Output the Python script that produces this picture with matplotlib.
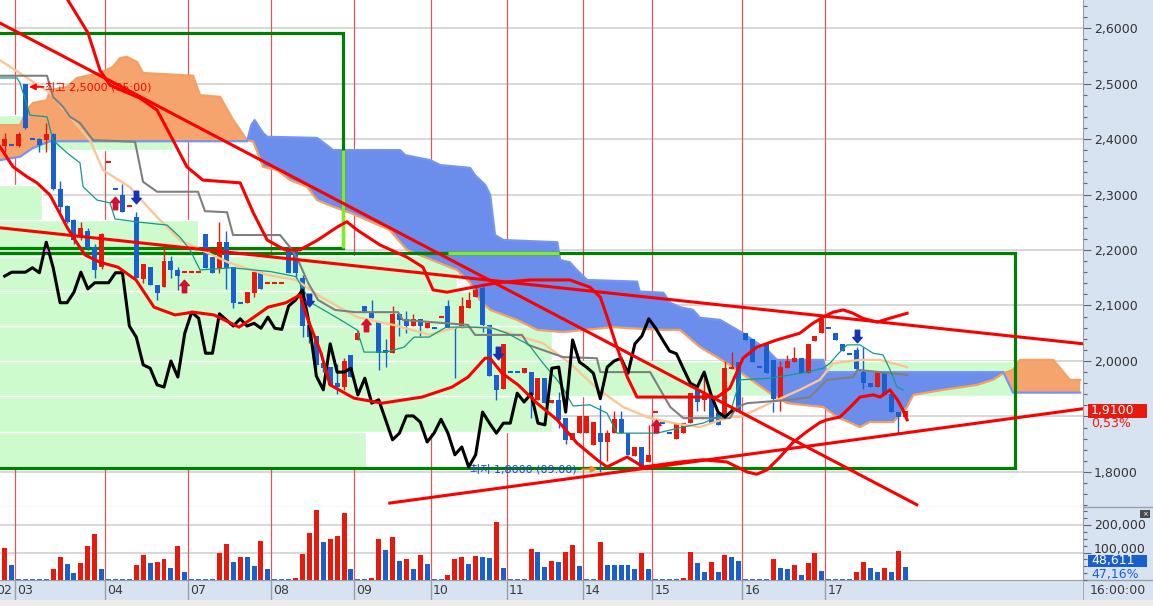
import numpy as np
import matplotlib
matplotlib.use("Agg")
import matplotlib.pyplot as plt
import matplotlib.transforms as mtrans
from matplotlib.patches import Rectangle
from matplotlib.path import Path
from matplotlib.ticker import FixedLocator, FuncFormatter, MultipleLocator

plt.rcParams['font.family'] = ['DejaVu Sans', 'Noto Sans CJK KR']

# ---------------------------------------------------------------- data
days = ['02', '03', '04', '07', '08', '09', '10', '11', '14', '15', '16', '17']
day_start = [-1, 2, 15, 27, 39, 51, 62, 73, 84, 94, 107, 119]

opens = [2.387, 2.389, 2.387, 2.499, 2.400, 2.400, 2.398, 2.409, 2.310, 2.279,
         2.254, 2.223, 2.234, 2.205, 2.169, 2.359, 2.310, 2.299, 2.279, 2.259,
         2.148, 2.169, 2.137, 2.133, 2.180, 2.164, 2.160, 2.160, 2.160, 2.229,
         2.187, 2.168, 2.214, 2.169, 2.105, 2.105, 2.123, 2.160, 2.141, 2.141,
         2.141, 2.200, 2.200, 2.150, 2.065, 2.045, 1.996, 1.989, 1.960, 1.953,
         2.011, 2.038, 2.099, 2.088, 2.070, 2.020, 2.014, 2.085, 2.076, 2.063,
         2.076, 2.059, 2.059, 2.079, 2.099, 2.059, 2.059, 2.095, 2.115, 2.132,
         2.065, 1.975, 1.950, 1.980, 1.980, 1.978, 1.980, 1.930, 1.969, 1.924,
         1.930, 1.897, 1.858, 1.870, 1.870, 1.849, 1.870, 1.854, 1.870, 1.895,
         1.870, 1.829, 1.845, 1.818, 1.908, 1.888, 1.870, 1.859, 1.870, 1.888,
         1.950, 1.930, 1.935, 1.906, 1.899, 1.985, 1.998, 2.050, 2.040, 1.989,
         2.031, 2.002, 1.932, 1.987, 1.998, 2.005, 1.978, 2.036, 2.050, 2.059,
         2.050, 2.031, 2.013, 2.020, 1.980, 1.960, 1.953, 1.980, 1.941, 1.908,
         1.899]
highs = [2.410, 2.389, 2.412, 2.500, 2.400, 2.402, 2.429, 2.411, 2.325, 2.281,
         2.256, 2.250, 2.240, 2.210, 2.231, 2.359, 2.310, 2.319, 2.279, 2.268,
         2.175, 2.170, 2.137, 2.204, 2.190, 2.169, 2.160, 2.160, 2.160, 2.229,
         2.187, 2.250, 2.234, 2.170, 2.105, 2.124, 2.164, 2.160, 2.141, 2.141,
         2.141, 2.200, 2.200, 2.155, 2.065, 2.045, 2.000, 1.989, 1.995, 2.005,
         2.011, 2.056, 2.099, 2.110, 2.070, 2.040, 2.099, 2.085, 2.090, 2.085,
         2.076, 2.068, 2.059, 2.079, 2.110, 2.059, 2.115, 2.125, 2.133, 2.137,
         2.065, 1.975, 2.031, 1.980, 1.980, 1.987, 1.980, 1.969, 1.969, 1.930,
         1.945, 1.897, 1.870, 1.901, 1.901, 1.890, 1.921, 1.876, 1.910, 1.910,
         1.870, 1.845, 1.845, 1.885, 1.908, 1.888, 1.870, 1.888, 1.888, 1.942,
         1.950, 1.975, 1.935, 1.906, 2.000, 2.016, 1.998, 2.050, 2.040, 1.989,
         2.031, 2.002, 2.000, 2.011, 2.025, 2.005, 2.031, 2.045, 2.076, 2.059,
         2.050, 2.031, 2.013, 2.025, 2.025, 1.960, 1.980, 1.980, 1.941, 1.908,
         1.910]
lows = [2.377, 2.389, 2.385, 2.418, 2.400, 2.377, 2.377, 2.308, 2.268, 2.248,
        2.210, 2.218, 2.200, 2.150, 2.165, 2.359, 2.310, 2.268, 2.279, 2.150,
        2.141, 2.137, 2.110, 2.133, 2.150, 2.128, 2.160, 2.160, 2.160, 2.168,
        2.159, 2.159, 2.130, 2.095, 2.105, 2.105, 2.115, 2.130, 2.141, 2.141,
        2.141, 2.159, 2.150, 2.043, 2.032, 1.985, 1.980, 1.957, 1.940, 1.948,
        1.971, 2.038, 2.088, 2.077, 1.984, 1.990, 2.014, 2.045, 2.050, 2.063,
        2.045, 2.059, 2.059, 2.079, 2.059, 1.969, 2.059, 2.095, 2.115, 2.052,
        1.973, 1.930, 1.950, 1.980, 1.980, 1.978, 1.898, 1.930, 1.924, 1.924,
        1.880, 1.850, 1.858, 1.870, 1.870, 1.849, 1.800, 1.820, 1.870, 1.870,
        1.831, 1.829, 1.809, 1.818, 1.908, 1.888, 1.870, 1.859, 1.870, 1.888,
        1.910, 1.910, 1.888, 1.885, 1.899, 1.985, 1.908, 2.038, 1.998, 1.989,
        1.978, 1.908, 1.910, 1.987, 1.998, 1.978, 1.978, 2.036, 2.050, 2.059,
        2.038, 2.018, 2.013, 1.986, 1.950, 1.953, 1.953, 1.939, 1.908, 1.871,
        1.899]
closes = [2.400, 2.389, 2.409, 2.420, 2.400, 2.389, 2.409, 2.310, 2.277, 2.250,
          2.218, 2.240, 2.204, 2.164, 2.229, 2.359, 2.310, 2.268, 2.279, 2.150,
          2.175, 2.137, 2.123, 2.180, 2.164, 2.153, 2.160, 2.160, 2.160, 2.168,
          2.159, 2.214, 2.168, 2.105, 2.105, 2.124, 2.160, 2.130, 2.141, 2.141,
          2.141, 2.159, 2.159, 2.063, 2.043, 1.993, 1.987, 1.957, 1.953, 2.000,
          1.971, 2.050, 2.088, 2.077, 2.014, 2.014, 2.085, 2.074, 2.063, 2.076,
          2.063, 2.068, 2.059, 2.079, 2.059, 2.057, 2.099, 2.110, 2.128, 2.065,
          1.973, 1.948, 2.031, 1.980, 1.980, 1.987, 1.939, 1.969, 1.924, 1.930,
          1.894, 1.858, 1.870, 1.901, 1.901, 1.890, 1.854, 1.870, 1.895, 1.870,
          1.831, 1.845, 1.809, 1.831, 1.908, 1.888, 1.870, 1.888, 1.888, 1.942,
          1.926, 1.941, 1.888, 1.885, 1.987, 1.989, 1.908, 2.038, 1.998, 1.989,
          1.978, 1.932, 1.989, 2.000, 2.005, 1.978, 2.031, 2.045, 2.076, 2.059,
          2.038, 2.018, 2.013, 1.986, 1.960, 1.953, 1.980, 1.939, 1.908, 1.899,
          1.910]
flat_up = [15, 18, 26, 27, 28, 38, 39, 40, 63, 94]   # no-trade bars shown in red

volume = [117000, 54000,
          0, 0, 0, 0, 0, 40000, 83000, 58000, 25000, 63000, 124000, 167000, 40000,
          0, 0, 0, 0, 54000, 90000, 63000, 66000, 76000, 43000, 124000, 30000,
          0, 0, 0, 0, 99000, 131000, 66000, 83000, 83000, 51000, 142000, 40000,
          0, 0, 0, 7000, 95000, 171000, 253000, 137000, 148000, 160000, 243000, 40000,
          0, 0, 8000, 148000, 108000, 155000, 69000, 76000, 40000, 90000, 58000,
          0, 0, 18000, 76000, 83000, 58000, 87000, 83000, 80000, 210000, 43000,
          0, 0, 0, 112000, 101000, 47000, 69000, 65000, 101000, 127000, 51000,
          0, 0, 137000, 54000, 54000, 54000, 54000, 40000, 98000, 40000,
          0, 0, 0, 0, 7000, 101000, 61000, 29000, 65000, 29000, 90000, 83000, 69000,
          0, 0, 0, 0, 76000, 43000, 40000, 54000, 18000, 61000, 98000, 33000,
          0, 0, 0, 0, 29000, 65000, 43000, 29000, 43000, 29000, 105000, 48611]

# ichimoku / band lines: (bar index, price)
tenkan = [(-0.68, 2.510), (1.78, 2.510), (2.21, 2.501), (3.65, 2.443), (6.11, 2.440), (6.97, 2.398),
          (9.0, 2.375), (10.87, 2.357), (11.31, 2.314), (13.33, 2.290), (15.2, 2.285), (15.93, 2.256),
          (19.54, 2.250), (23.44, 2.245), (25.32, 2.223), (26.76, 2.200), (28.2, 2.164), (32.82, 2.168),
          (38.45, 2.161), (42.06, 2.152), (44.23, 2.105), (47.84, 2.079), (50.88, 2.056), (51.89, 2.016),
          (55.06, 2.016), (57.66, 2.025), (59.1, 2.043), (61.27, 2.043), (63.72, 2.061), (67.33, 2.061),
          (70.51, 2.059), (72.53, 2.050), (75.71, 2.029), (77.73, 1.996), (79.75, 1.966), (80.62, 1.951),
          (82.07, 1.919), (84.52, 1.921), (86.97, 1.906), (88.42, 1.870), (90.73, 1.870), (94.19, 1.870),
          (97.95, 1.881), (100.84, 1.888), (102.86, 1.899), (104.74, 1.906), (106.18, 1.966), (110.51, 1.969),
          (115.86, 1.980), (118.17, 1.987), (119.18, 1.996), (120.19, 2.011), (121.64, 2.029), (123.5, 2.029),
          (125.39, 2.014), (126.83, 2.011), (127.84, 1.984), (128.85, 1.953), (129.72, 1.948)]
kijun = [(-0.68, 2.514), (6.11, 2.514), (6.97, 2.476), (8.42, 2.458), (9.43, 2.440), (10.87, 2.429),
         (12.75, 2.398), (18.82, 2.395), (19.97, 2.323), (22.0, 2.305), (27.91, 2.305), (28.92, 2.270),
         (32.1, 2.268), (32.97, 2.227), (39.76, 2.227), (41.2, 2.205), (42.35, 2.182), (43.8, 2.141),
         (45.24, 2.110), (47.7, 2.092), (50.6, 2.088), (56.8, 2.088), (57.5, 2.074), (66.9, 2.065),
         (67.9, 2.047), (74.7, 2.047), (75.6, 2.029), (80.6, 2.007), (85.5, 2.005), (86.0, 1.980),
         (93.2, 1.980), (96.1, 1.917), (98.0, 1.897), (104.7, 1.897), (105.75, 1.917), (107.2, 1.924),
         (113.4, 1.930), (116.3, 1.935), (118.7, 1.966), (122.5, 1.971), (123.1, 1.984), (130.3, 1.975)]
band_upper = [(9.14, 2.650), (12.03, 2.591), (13.76, 2.524), (15.2, 2.497), (17.4, 2.485), (19.5, 2.474),
              (22.0, 2.452), (24.3, 2.398), (26.3, 2.350), (28.6, 2.326), (34.0, 2.321), (35.9, 2.267),
              (37.9, 2.218), (40.5, 2.200), (42.6, 2.200), (45.2, 2.218), (48.1, 2.242), (49.4, 2.251),
              (50.9, 2.236), (54.2, 2.209), (58.1, 2.187), (60.4, 2.169), (61.85, 2.128), (63.87, 2.124),
              (67.2, 2.132), (71.1, 2.141), (75.9, 2.146), (81.6, 2.146), (84.5, 2.133), (86.0, 2.115),
              (87.0, 2.079), (88.4, 2.025), (89.9, 1.971), (91.3, 1.935), (99.0, 1.935), (102.9, 1.935),
              (104.7, 1.951), (106.6, 2.005), (108.6, 2.025), (111.5, 2.038), (114.8, 2.050), (116.7, 2.068),
              (118.2, 2.079), (119.6, 2.088), (121.1, 2.092), (122.5, 2.086), (123.9, 2.077), (125.97, 2.070),
              (127.8, 2.077), (130.3, 2.086)]
band_lower = [(-0.68, 2.386), (1.2, 2.350), (3.22, 2.332), (4.66, 2.321), (6.54, 2.299), (7.7, 2.272),
              (9.0, 2.241), (10.15, 2.218), (11.6, 2.191), (13.76, 2.178), (16.36, 2.169), (18.96, 2.146),
              (21.56, 2.097), (24.59, 2.083), (27.19, 2.088), (30.22, 2.083), (33.83, 2.061), (35.42, 2.074),
              (38.02, 2.097), (40.62, 2.105), (42.64, 2.119), (43.65, 2.079), (45.68, 2.014), (46.97, 1.957),
              (50.44, 1.933), (54.5, 1.924), (60.26, 1.935), (64.59, 1.953), (66.9, 1.971), (69.36, 2.005),
              (70.08, 2.005), (71.81, 1.978), (74.12, 1.957), (76.87, 1.924), (79.75, 1.894), (82.64, 1.852),
              (85.53, 1.822), (86.97, 1.809), (88.42, 1.818), (89.87, 1.827), (91.31, 1.816), (92.18, 1.809),
              (94.6, 1.813), (97.5, 1.818), (100.8, 1.822), (104.3, 1.818), (105.75, 1.809), (107.2, 1.800),
              (108.6, 1.796), (110.1, 1.804), (111.96, 1.827), (113.8, 1.853), (115.85, 1.873), (117.7, 1.889),
              (118.7, 1.894), (120.6, 1.899), (122.1, 1.917), (123.5, 1.935), (125.4, 1.939), (126.4, 1.935),
              (127.8, 1.948), (128.9, 1.930), (129.7, 1.912), (130.3, 1.894)]
band_mid = [(-0.68, 2.542), (6.54, 2.483), (12.3, 2.398), (14.2, 2.344), (18.1, 2.313), (21.4, 2.267),
            (25.3, 2.218), (32.4, 2.177), (38.0, 2.155), (42.1, 2.146), (45.7, 2.115), (50.9, 2.079),
            (56.1, 2.065), (61.4, 2.047), (65.3, 2.061), (69.6, 2.061), (72.97, 2.050), (77.7, 2.032),
            (81.6, 1.996), (85.5, 1.951), (89.3, 1.917), (93.2, 1.897), (97.5, 1.886), (100.4, 1.881),
            (104.7, 1.899), (106.2, 1.899), (110.5, 1.924), (114.8, 1.948), (117.7, 1.966), (119.6, 1.996),
            (123.5, 2.002), (126.4, 2.002), (130.3, 1.989)]
span_a = [(-0.68, 2.425), (2.21, 2.425), (3.37, 2.456), (4.09, 2.465), (6.11, 2.470), (6.54, 2.488),
          (9.0, 2.494), (10.44, 2.510), (13.76, 2.519), (15.64, 2.530), (16.65, 2.546), (17.66, 2.548),
          (19.1, 2.539), (19.97, 2.519), (27.2, 2.514), (28.2, 2.479), (31.1, 2.476), (33.0, 2.434),
          (35.0, 2.398), (35.9, 2.395), (37.3, 2.350), (39.3, 2.344), (41.2, 2.326), (43.65, 2.314),
          (45.1, 2.290), (47.4, 2.278), (49.9, 2.267), (55.6, 2.236), (58.1, 2.200), (65.3, 2.164),
          (67.2, 2.141), (68.6, 2.110), (70.1, 2.092), (74.0, 2.074), (76.9, 2.056), (80.6, 2.052),
          (87.8, 2.061), (90.3, 2.059), (95.1, 2.056), (97.5, 2.056), (100.4, 2.025), (104.3, 1.996),
          (107.2, 1.971), (110.5, 1.942), (113.0, 1.924), (118.2, 1.917), (120.2, 1.899), (123.5, 1.881),
          (124.9, 1.890), (128.3, 1.890), (130.3, 1.917), (131.2, 1.939), (135.5, 1.948), (140.4, 1.957),
          (142.7, 1.966), (144.2, 1.978), (145.6, 1.984), (146.6, 2.002), (151.4, 2.002), (153.8, 1.966),
          (155.3, 1.966)]
span_b = [(-0.68, 2.362), (2.21, 2.368), (4.09, 2.384), (6.54, 2.396), (35.0, 2.396), (35.6, 2.425),
          (36.1, 2.434), (37.3, 2.411), (37.9, 2.404), (45.1, 2.402), (46.5, 2.389), (47.4, 2.380),
          (57.1, 2.380), (57.8, 2.371), (61.4, 2.362), (62.9, 2.353), (67.2, 2.348), (67.9, 2.335),
          (69.4, 2.317), (70.1, 2.299), (70.8, 2.227), (72.0, 2.218), (79.8, 2.214), (80.2, 2.182),
          (81.6, 2.178), (82.6, 2.164), (84.1, 2.146), (91.3, 2.143), (91.7, 2.125), (95.1, 2.123),
          (96.1, 2.105), (97.5, 2.097), (99.4, 2.092), (100.4, 2.078), (103.3, 2.074), (106.6, 2.050),
          (110.1, 2.020), (111.5, 2.002), (118.2, 2.002), (118.7, 1.980), (144.2, 1.980), (145.6, 1.943),
          (155.3, 1.943)]

# volume-by-price histogram: bins from 1.8094 upward, length in % of chart width
vp_bottom = 1.8094
vp_step = 0.0634
vp_pct = [33.8, 51.0, 93.5, 51.0, 51.0, 42.2, 18.3, 3.9, 0.0, 16.0]

# drawn trend lines (start idx, start price, end idx, end price)
trend_lines = [(-0.68, 2.609, 131.7, 1.741),
               (-0.68, 2.240, 155.7, 2.031),
               (55.6, 1.744, 155.7, 1.914)]
# green boxes (right idx, top price, bottom price)
boxes = [(48.85, 2.591, 2.204), (145.9, 2.195, 1.807)]
# signal arrows
sig_up = [(15.9, 2.285), (25.9, 2.136), (52.1, 2.065), (94.1, 1.883)]
sig_down = [(19.0, 2.296), (44.0, 2.110), (71.2, 2.014), (123.1, 2.045)]

price_ticks = [1.8, 1.9, 2.0, 2.1, 2.2, 2.3, 2.4, 2.5, 2.6]
vol_ticks = [100000, 200000]

# ---------------------------------------------------------------- figure
W, H = 1153, 606
fig = plt.figure(figsize=(W / 100, H / 100), dpi=100)
fig.patch.set_facecolor('white')


def frac(x0, y0, x1, y1):
    return [x0 / W, 1 - y1 / H, (x1 - x0) / W, (y1 - y0) / H]


STRIP = '#d7e3f0'
RED = '#e6190f'
BLUE = '#1a5fce'
LRED = '#fa0000'
XMIN, XMAX = -0.68, 155.7
PMIN, PMAX = 1.7369, 2.6505
VMAX = 265500

axr = fig.add_axes(frac(1083, 0, 1153, 600), zorder=0)
axr.set_facecolor(STRIP)
axr.set_xlim(0, 1); axr.set_ylim(600, 0)
axr.set_xticks([]); axr.set_yticks([])
for s in axr.spines.values():
    s.set_visible(False)
axr.plot([0, 0], [0, 600], color='#9aa0a8', lw=1.2)
axr.axhline(507, color='#9aa0a8', lw=1)
axr.axhline(580, color='#9aa0a8', lw=1)

axtb = fig.add_axes(frac(0, 600, 1153, 606), zorder=0)
axtb.set_facecolor('#ececec')
axtb.set_xticks([]); axtb.set_yticks([])
for s in axtb.spines.values():
    s.set_visible(False)

ax = fig.add_axes(frac(0, 0, 1083, 507), zorder=2)
axv = fig.add_axes(frac(0, 507, 1083, 580), zorder=2)
axd = fig.add_axes(frac(0, 580, 1083, 600), zorder=1)

idx = np.arange(len(opens))
O = np.array(opens); Hh = np.array(highs); L = np.array(lows); C = np.array(closes)
last = C[-1]

# ---- price panel
ax.set_facecolor('white')
ax.set_xlim(XMIN, XMAX)
ax.set_ylim(PMIN, PMAX)
ax.xaxis.set_visible(False)
ax.yaxis.tick_right()
ax.yaxis.set_major_locator(FixedLocator(price_ticks))
# the terminal hides an axis label that sits under the last-price marker
ax.yaxis.set_major_formatter(FuncFormatter(
    lambda v, p: '' if abs(v - last) < 0.03 else f"{v:.4f}".replace('.', ',')))
ax.yaxis.set_minor_locator(MultipleLocator(0.02))
ax.tick_params(axis='y', which='major', direction='out', length=6, width=0.8,
               color='#666666', labelsize=9, labelcolor='#333333', pad=2)
ax.tick_params(axis='y', which='minor', direction='out', length=3, width=0.8, color='#666666')
for k in ['left', 'top']:
    ax.spines[k].set_visible(False)
ax.spines['right'].set_color('#9aa0a8')
ax.spines['bottom'].set_color('#9aa0a8')

for p in price_ticks:
    ax.axhline(p, color='#d4d4d4', lw=1.3, zorder=0.5)
for s in day_start[1:]:
    ax.axvline(s - 0.5, color='#d85a5a', lw=0.9, zorder=0.6)

# volume-by-price
span = XMAX - XMIN
for k, pct in enumerate(vp_pct):
    if pct <= 0:
        continue
    ax.add_patch(Rectangle((XMIN - 1, vp_bottom + k * vp_step), pct / 100 * span + 1, vp_step,
                           facecolor='#cdfbcd', edgecolor='white', lw=1.0, zorder=1))


def xy(pairs):
    a = np.array(pairs, float)
    return a[:, 0], a[:, 1]


# cloud
sa_i, sa_v = xy(span_a)
sb_i, sb_v = xy(span_b)
for a, b, col in [(-1, 35.0, '#f5a46e'), (35.0, 144.2, '#6b8deb'), (144.2, 160, '#f5a46e')]:
    ma = (sa_i >= a) & (sa_i <= b)
    mb = (sb_i >= a) & (sb_i <= b)
    ax.fill(np.concatenate([sa_i[ma], sb_i[mb][::-1]]),
            np.concatenate([sa_v[ma], sb_v[mb][::-1]]), color=col, lw=0, zorder=2)
ax.plot(sa_i, sa_v, color='#f4a064', lw=1.6, zorder=2.5)
ax.plot(sb_i, sb_v, color='#7595ee', lw=1.6, zorder=2.5)

# boxes (edges turn lime where they run over the blue cloud)
for x1, top, bot in boxes:
    ax.plot([XMIN - 2, x1, x1, XMIN - 2], [top, top, bot, bot], color='#008000', lw=2.3,
            zorder=3, solid_joinstyle='miter')
grid = np.linspace(XMIN, XMAX, 3000)
ga = np.interp(grid, sa_i, sa_v)
gb = np.interp(grid, sb_i, sb_v)
x1, top, bot = boxes[0]
hi_edge = np.interp(x1, sb_i, sb_v)
ax.plot([x1, x1], [min(hi_edge, top), bot], color='#7fef1a', lw=2.3, zorder=3.1,
        solid_capstyle='butt')
x1, top, bot = boxes[1]
inside = (ga < top) & (gb > top) & (grid < x1) & (grid > 64)
if inside.any():
    ax.plot([grid[inside].min(), grid[inside].max()], [top, top], color='#7fef1a', lw=2.3,
            zorder=3.1, solid_capstyle='butt')

# candles
is_flat = O == C
up = (C > O) | (is_flat & np.isin(idx, flat_up))
cols = np.where(up, RED, BLUE)
ax.vlines(idx, L, Hh, colors=cols, lw=1.0, zorder=4)
nf = ~is_flat
ax.bar(idx[nf], np.abs(C - O)[nf], bottom=np.minimum(O, C)[nf], width=0.72,
       color=cols[nf], lw=0, zorder=4.1)
ax.hlines(O[is_flat], idx[is_flat] - 0.36, idx[is_flat] + 0.36, colors=cols[is_flat], lw=1.5, zorder=4.1)

# indicator lines
x_, y_ = xy(band_mid); ax.plot(x_, y_, color='#fcc596', lw=1.7, zorder=5)
x_, y_ = xy(kijun); ax.plot(x_, y_, color='#7f7f7f', lw=1.5, zorder=5.1)
x_, y_ = xy(tenkan); ax.plot(x_, y_, color='#139a88', lw=0.9, zorder=5.2)
lag = 25
ax.plot(idx[lag:] - lag, C[lag:], color='black', lw=2.2, zorder=5.5)
pk = int(np.argmax(C[lag:lag + 10]))
ax.plot([pk], [C[lag + pk] - 0.012], ls='none', marker='^', ms=5, color='#f080f0',
        markeredgecolor='black', markeredgewidth=0.6, zorder=5.6)
x_, y_ = xy(band_upper); ax.plot(x_, y_, color=LRED, lw=2.2, zorder=6)
x_, y_ = xy(band_lower); ax.plot(x_, y_, color=LRED, lw=2.2, zorder=6)
for x0, p0, x1, p1 in trend_lines:
    ax.plot([x0, x1], [p0, p1], color=LRED, lw=2.2, zorder=6.5)

# signal arrows
up_arrow = Path([(0, 1), (-0.75, 0.15), (-0.35, 0.15), (-0.35, -1), (0.35, -1), (0.35, 0.15),
                 (0.75, 0.15), (0, 1)],
                [Path.MOVETO] + [Path.LINETO] * 6 + [Path.CLOSEPOLY])
down_arrow = Path([(x, -y) for x, y in up_arrow.vertices], up_arrow.codes)
ux, uy = xy(sig_up)
dx_, dy_ = xy(sig_down)
ax.plot(ux, uy, ls='none', marker=up_arrow, ms=9, color='#d2102f', zorder=7)
ax.plot(dx_, dy_, ls='none', marker=down_arrow, ms=9, color='#1434b4', zorder=7)

# high / low labels
hi_i = int(np.argmax(Hh)); lo_i = int(np.argmin(L))
ax.annotate('', xy=(hi_i + 0.5, 2.494), xytext=(hi_i + 2.6, 2.494),
            arrowprops=dict(arrowstyle='-|>', color='#ff0000', lw=1.3, mutation_scale=9,
                            shrinkA=0, shrinkB=0), zorder=8)
ax.text(hi_i + 2.82, 2.494, '최고 2,5000 (05:00)', color='#ff0000', fontsize=8,
        va='center', ha='left', zorder=8)
ax.text(lo_i - 3.4, 1.805, '최저 1,8000 (09:00)', color='#1f3fd6', fontsize=8,
        va='center', ha='right', zorder=8)
ax.annotate('', xy=(lo_i - 0.4, 1.805), xytext=(lo_i - 2.6, 1.805),
            arrowprops=dict(arrowstyle='-|>', color='#f08a1c', lw=1.3, mutation_scale=9,
                            shrinkA=0, shrinkB=0), zorder=8)

# last price box
tb = mtrans.blended_transform_factory(fig.transFigure, ax.transData)
ph = 14 / 555
ax.add_patch(Rectangle((1088 / W, last - ph / 2), 59 / W, ph, transform=tb, facecolor='#e8190f',
                       edgecolor='none', clip_on=False, zorder=10))
ax.text(1091 / W, last, f"{last:.4f}".replace('.', ','), transform=tb, color='white', fontsize=9,
        va='center', ha='left', clip_on=False, zorder=11)
ax.text(1091 / W, last - 12.5 / 555, '0,53%', transform=tb, color='#e8190f', fontsize=9,
        va='center', ha='left', clip_on=False, zorder=11)

# ---- volume panel
V = np.array(volume, float)
prev = np.concatenate([[0], V[:-1]])
vcols = np.where(V > prev, RED, BLUE)
axv.set_facecolor('white')
axv.set_xlim(XMIN, XMAX)
axv.set_ylim(0, VMAX)
axv.xaxis.set_visible(False)
axv.yaxis.tick_right()
axv.yaxis.set_major_locator(FixedLocator(vol_ticks))
axv.yaxis.set_major_formatter(FuncFormatter(lambda v, p: f"{int(v):,}"))
axv.yaxis.set_minor_locator(MultipleLocator(25000))
axv.tick_params(axis='y', which='major', direction='out', length=6, width=0.8,
                color='#666666', labelsize=9, labelcolor='#333333', pad=2)
axv.tick_params(axis='y', which='minor', direction='out', length=3, width=0.8, color='#666666')
for lab, up_px in zip(axv.get_yticklabels(), [4.5, 1.5]):
    lab.set_transform(lab.get_transform()
                      + mtrans.ScaledTranslation(0, up_px / 100, fig.dpi_scale_trans))
for k in ['left', 'top']:
    axv.spines[k].set_visible(False)
axv.spines['right'].set_color('#9aa0a8')
axv.spines['bottom'].set_color('#9aa0a8')
for t in vol_ticks:
    axv.axhline(t, color='#d4d4d4', lw=1.3, zorder=0.5)
for s in day_start[1:]:
    axv.axvline(s - 0.5, color='#d85a5a', lw=0.9, zorder=0.6)
nz = V > 0
axv.bar(idx[nz], V[nz], width=0.72, color=vcols[nz], lw=0, zorder=3)
axv.hlines(np.full((~nz).sum(), 900.0), idx[~nz] - 0.36, idx[~nz] + 0.36, colors=vcols[~nz],
           lw=1.3, zorder=3)
tv = mtrans.blended_transform_factory(fig.transFigure, axv.transData)
vh = 12 / 27.5 * 100000
axv.add_patch(Rectangle((1088 / W, V[-1]), 59 / W, vh, transform=tv, facecolor='#1a5fce',
                        edgecolor='none', clip_on=False, zorder=10))
axv.text(1091 / W, V[-1] + vh / 2, f"{int(V[-1]):,}", transform=tv, color='white', fontsize=9,
         va='center', ha='left', clip_on=False, zorder=11)
axv.text(1091 / W, V[-1] - 7.5 / 27.5 * 100000, '47,16%', transform=tv, color='#1a5fce', fontsize=9,
         va='center', ha='left', clip_on=False, zorder=11)
fig.patches.append(Rectangle((1140 / W, 1 - 518 / H), 10 / W, 8 / H, transform=fig.transFigure,
                             facecolor='#4a4a4a', edgecolor='none', zorder=20))
fig.text(1145 / W, 1 - 514 / H, '×', color='white', fontsize=5, ha='center', va='center',
         zorder=21)

# ---- date strip
axd.set_facecolor(STRIP)
axd.set_xlim(XMIN, XMAX)
axd.set_ylim(0, 1)
axd.set_xticks([]); axd.set_yticks([])
for k in ['left', 'right', 'bottom']:
    axd.spines[k].set_visible(False)
axd.spines['top'].set_color('#9aa0a8')
for d, s in zip(days, day_start):
    axd.plot([s - 0.5, s - 0.5], [0, 1], color='#9aa0a8', lw=1)
    axd.text(s - 0.5 + 0.3, 0.45, d, fontsize=9, color='#3a3a3a', va='center', ha='left', clip_on=True)
fig.text(1090 / W, 1 - 591 / H, '16:00:00', fontsize=9, color='#3a3a3a', va='center', ha='left')

fig.savefig('out.png', dpi=100, facecolor=fig.get_facecolor())
